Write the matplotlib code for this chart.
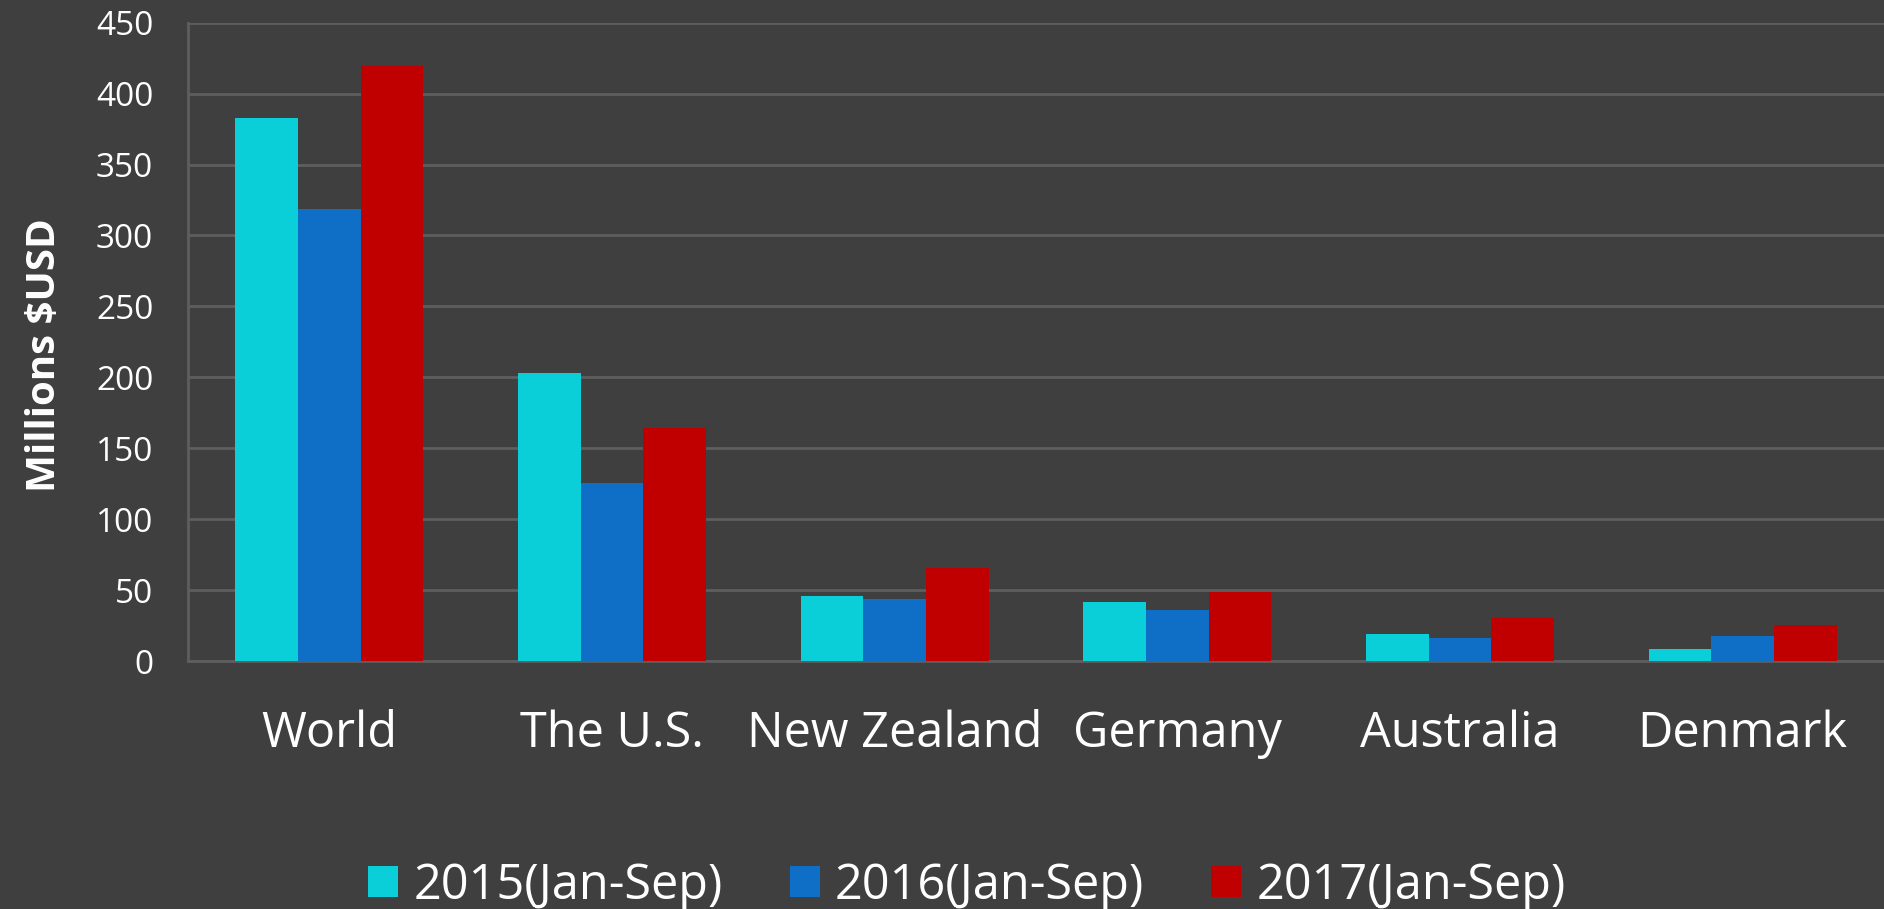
import matplotlib

matplotlib.use("Agg")
import matplotlib.pyplot as plt
import numpy as np

# data
countries = ["World", "The U.S.", "New Zealand", "Germany", "Australia", "Denmark"]
series_names = ["2015(Jan-Sep)", "2016(Jan-Sep)", "2017(Jan-Sep)"]
v2015 = [382.5, 203.2, 45.7, 41.9, 19.3, 8.7]
v2016 = [318.7, 125.3, 43.6, 36.1, 16.5, 17.9]
v2017 = [419.7, 164.6, 65.5, 49.0, 30.4, 25.5]
yticks = [0, 50, 100, 150, 200, 250, 300, 350, 400, 450]

colors = ["#0BCFD8", "#0F6FC6", "#C00000"]
bg = "#3F3F3F"
grid_c = "#5E5E5E"

plt.rcParams["font.family"] = ["Open Sans", "DejaVu Sans"]

fig = plt.figure(figsize=(18.84, 9.09), dpi=100, facecolor=bg)
ax = fig.add_axes([0.0998, 0.2728, 0.9002, 0.7022])
ax.set_facecolor(bg)

x = np.arange(len(countries))
w = 0.222
for i, (vals, name) in enumerate(zip([v2015, v2016, v2017], series_names)):
    ax.bar(x + (i - 1) * w, vals, width=w, color=colors[i], label=name, zorder=3)

ax.set_xlim(-0.5, len(countries) - 0.5)
ax.set_ylim(0, 450)
ax.set_yticks(yticks)
ax.set_xticks(x)
ax.set_xticklabels(countries)
ax.yaxis.grid(True, color=grid_c, linewidth=2, zorder=0)

for side in ["top", "right"]:
    ax.spines[side].set_visible(False)
ax.spines["left"].set_color(grid_c)
ax.spines["left"].set_linewidth(2)
ax.spines["bottom"].set_color(grid_c)
ax.spines["bottom"].set_linewidth(2)

ax.tick_params(axis="y", length=0, pad=25, labelsize=24, labelcolor="white")
ax.tick_params(axis="x", length=0, pad=35, labelsize=35, labelcolor="white")

fig.text(0.0235, 1 - 355 / 909, "Millions $USD", rotation=90, ha="center", va="center",
         fontsize=29, fontweight="bold", color="white")

fig.legend(loc="center", bbox_to_anchor=(967 / 1884, 1 - 886 / 909), ncol=3, frameon=False,
           fontsize=35, labelcolor="white", handlelength=0.617, handleheight=0.617,
           handletextpad=0.31, columnspacing=1.38, borderpad=0)

fig.savefig("out.png", dpi=100, facecolor=bg)
